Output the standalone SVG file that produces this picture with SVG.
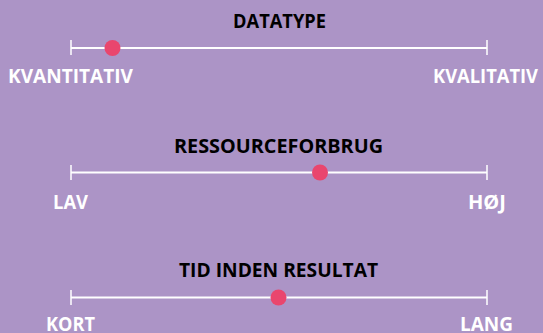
<svg xmlns="http://www.w3.org/2000/svg" width="543" height="333" viewBox="0 0 543 333">
<style>
.bg{fill:#ac94c6}
.axis{stroke:#ffffff;stroke-width:2;fill:none}
.tick{stroke:#ffffff;stroke-width:1.5;fill:none}
.dot{fill:#e9466e}
.title{font-family:"Open Sans","Liberation Sans",Arial,sans-serif;font-weight:bold;font-size:20px;fill:#000000;text-anchor:middle}
.label{font-family:"Open Sans","Liberation Sans",Arial,sans-serif;font-weight:bold;font-size:20px;fill:#ffffff;text-anchor:middle}
</style>
<rect class="bg" x="0" y="0" width="543" height="333"/>
<g id="connectors">
  <line class="axis" x1="71" y1="48" x2="487" y2="48"/>
  <line class="tick" x1="71" y1="40" x2="71" y2="55"/>
  <line class="tick" x1="487" y1="40" x2="487" y2="55"/>
  <line class="axis" x1="71" y1="172.5" x2="487" y2="172.5"/>
  <line class="tick" x1="71" y1="165" x2="71" y2="180"/>
  <line class="tick" x1="487" y1="165" x2="487" y2="180"/>
  <line class="axis" x1="71" y1="297.5" x2="487" y2="297.5"/>
  <line class="tick" x1="71" y1="290" x2="71" y2="305"/>
  <line class="tick" x1="487" y1="290" x2="487" y2="305"/>
</g>
<g id="datatype">
  <text class="title" x="279.5" y="27.5" textLength="93" lengthAdjust="spacingAndGlyphs">DATATYPE</text>
  <text class="label" x="70.5" y="83" textLength="125" lengthAdjust="spacingAndGlyphs">KVANTITATIV</text>
  <text class="label" x="485.5" y="83" textLength="105" lengthAdjust="spacingAndGlyphs">KVALITATIV</text>
  <circle class="dot" cx="112.5" cy="48" r="8"/>
</g>
<g id="ressourceforbrug">
  <text class="title" x="278.5" y="152.5" textLength="209" lengthAdjust="spacingAndGlyphs">RESSOURCEFORBRUG</text>
  <text class="label" x="70.5" y="209" textLength="35" lengthAdjust="spacingAndGlyphs">LAV</text>
  <text class="label" x="487" y="209" textLength="38" lengthAdjust="spacingAndGlyphs">HØJ</text>
  <circle class="dot" cx="320" cy="172.5" r="8"/>
</g>
<g id="tid">
  <text class="title" x="278.5" y="277" textLength="199" lengthAdjust="spacingAndGlyphs">TID INDEN RESULTAT</text>
  <text class="label" x="70.5" y="331" textLength="49" lengthAdjust="spacingAndGlyphs">KORT</text>
  <text class="label" x="486.5" y="331" textLength="53" lengthAdjust="spacingAndGlyphs">LANG</text>
  <circle class="dot" cx="278.5" cy="297.5" r="8"/>
</g>
</svg>
